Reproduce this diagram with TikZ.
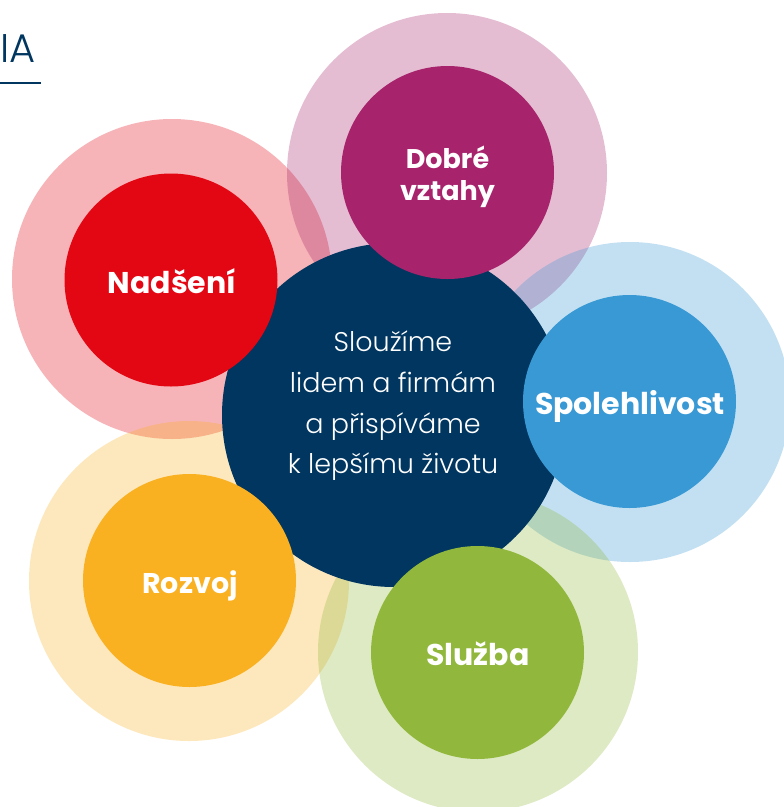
\documentclass[tikz,border=0pt]{standalone}
\usepackage{fontspec}
\setmainfont{Poppins}
\newfontfamily\lightf{Poppins Light}
\definecolor{navy}{RGB}{0,54,96}
\definecolor{cred}{RGB}{227,6,19}
\definecolor{cmag}{RGB}{167,35,108}
\definecolor{cblue}{RGB}{57,153,212}
\definecolor{corange}{RGB}{249,176,33}
\definecolor{cgreen}{RGB}{145,184,60}
\tikzset{
  halo/.style={circle, inner sep=0pt, minimum size=320pt, fill=#1, fill opacity=0.3, text opacity=1},
  core/.style={circle, inner sep=0pt, minimum size=213pt, fill=#1},
  lab/.style={text=white, font=\bfseries\fontsize{30}{32}\selectfont, inner sep=0pt, anchor=base},
}
\begin{document}
\begin{tikzpicture}[x=1pt,y=-1pt]
\useasboundingbox (0,0) rectangle (784,807);
\clip (0,0) rectangle (784,807);
% halos
\node[halo=cred] (h1) at (172,279) {};
\node[halo=cmag] (h2) at (447,173) {};
\node[halo=cblue] (h3) at (630,402) {};
\node[halo=corange] (h4) at (189,581) {};
\node[halo=cgreen] (h5) at (478,652) {};
% centre
\node[circle, inner sep=0pt, minimum size=344pt, fill=navy] (c) at (394,415) {};
% cores
\node[core=cred] (k1) at (171,280) {};
\node[core=cmag] (k2) at (447.5,172.5) {};
\node[core=cblue] (k3) at (629.5,401.5) {};
\node[core=corange] (k4) at (189.5,580.5) {};
\node[core=cgreen] (k5) at (477.5,652.5) {};
% labels
\node[lab] (t1) at (172,293) {Nadšení};
\node[text=white, font=\bfseries\fontsize{27}{32}\selectfont, align=center, inner sep=0pt] (t2) at (447.5,177) {Dobré\\vztahy};
\node[lab] (t3) at (630,414) {Spolehlivost};
\node[lab, font=\bfseries\fontsize{28.5}{32}\selectfont] (t4) at (190,593) {Rozvoj};
\node[lab] (t5) at (478,665) {Služba};
\node[text=white, font=\lightf\fontsize{27}{40.7}\selectfont, align=center, inner sep=0pt] (tc) at (393,406) {Sloužíme\\lidem a firmám\\a přispíváme\\k lepšímu životu};
% corner title
\node[text=navy, font=\lightf\fontsize{40}{44}\selectfont, inner sep=0pt, anchor=base east] (ia) at (36,62) {IA};
\coordinate (l1) at (0,83);
\coordinate (l2) at (41,83);
\draw[navy, line width=1.2pt] (l1) -- (l2);
\end{tikzpicture}
\end{document}
